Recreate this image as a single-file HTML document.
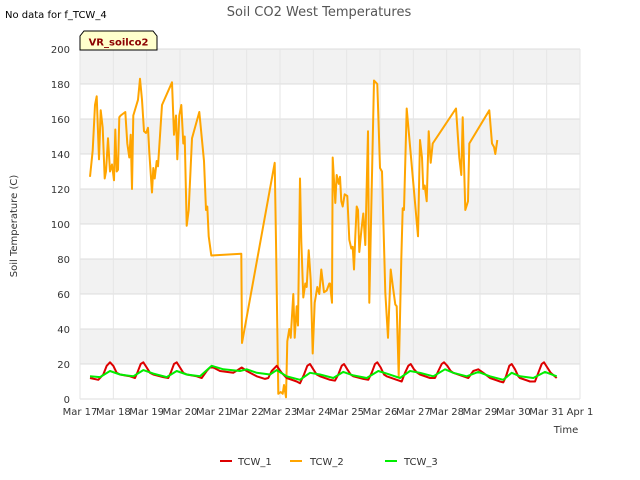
<!DOCTYPE html>
<html><head><meta charset="utf-8"><style>
body{margin:0;background:#fff;}
svg{display:block;font-family:"DejaVu Sans","Liberation Sans",sans-serif;}
</style></head><body>
<svg id="chart" width="640" height="480">
<text x="5" y="18" font-size="10" fill="#000">No data for f_TCW_4</text>
<text x="319" y="16" font-size="13" fill="#555" text-anchor="middle">Soil CO2 West Temperatures</text>
<g id="bands"></g>
<g id="grid"></g>
<g id="xticks"></g>
<g id="yticks"></g>
<g id="series"></g>
<text x="17" y="226" font-size="10" fill="#333" text-anchor="middle" transform="rotate(-90 17 226)">Soil Temperature (C)</text>
<text x="566" y="433" font-size="10" fill="#333" text-anchor="middle">Time</text>
<g>
<path d="M80,50 L80,36 L84,31 L153,31 L157,36 L157,50 Z" fill="#ffffcc" stroke="#000" stroke-width="1"/>
<text x="118.5" y="45.5" font-size="10" font-weight="bold" fill="#8b0000" text-anchor="middle">VR_soilco2</text>
</g>
<g>
<line x1="220" y1="461" x2="232" y2="461" stroke="#dd0000" stroke-width="2"/>
<text x="238" y="465" font-size="10" fill="#333">TCW_1</text>
<line x1="290" y1="461" x2="302" y2="461" stroke="#ffa500" stroke-width="2"/>
<text x="310" y="465" font-size="10" fill="#333">TCW_2</text>
<line x1="385" y1="461" x2="397" y2="461" stroke="#00ee00" stroke-width="2"/>
<text x="404" y="465" font-size="10" fill="#333">TCW_3</text>
</g>
</svg>
<script>
const xTickLabels=["Mar 17","Mar 18","Mar 19","Mar 20","Mar 21","Mar 22","Mar 23","Mar 24","Mar 25","Mar 26","Mar 27","Mar 28","Mar 29","Mar 30","Mar 31","Apr 1"];
const yTickValues=[0,20,40,60,80,100,120,140,160,180,200];
const tcw2Days=[0.3,0.38,0.45,0.5,0.57,0.62,0.68,0.74,0.78,0.84,0.9,0.96,1.02,1.06,1.1,1.14,1.18,1.22,1.36,1.42,1.48,1.52,1.56,1.6,1.74,1.8,1.86,1.92,1.98,2.04,2.08,2.16,2.2,2.24,2.3,2.34,2.46,2.76,2.82,2.88,2.92,2.98,3.04,3.1,3.14,3.2,3.26,3.36,3.58,3.72,3.78,3.82,3.86,3.94,4.84,4.86,5.84,5.88,5.95,6.02,6.08,6.12,6.18,6.22,6.28,6.32,6.4,6.44,6.5,6.54,6.6,6.64,6.7,6.76,6.8,6.86,6.92,6.98,7.04,7.12,7.18,7.24,7.32,7.4,7.48,7.5,7.56,7.58,7.66,7.7,7.76,7.8,7.84,7.88,7.94,8.02,8.08,8.14,8.18,8.22,8.26,8.3,8.34,8.38,8.44,8.5,8.56,8.64,8.68,8.82,8.92,9.0,9.06,9.16,9.24,9.32,9.38,9.46,9.5,9.56,9.64,9.68,9.72,9.8,10.14,10.2,10.26,10.3,10.34,10.4,10.46,10.52,10.58,11.28,11.38,11.44,11.48,11.56,11.64,11.68,12.28,12.36,12.42,12.46,12.52];
const tcw2Vals=[127,142,168,173,137,165,155,126,130,149,130,134,125,154,130,131,161,162,164,146,138,151,120,162,171,183,171,153,152,155,141,118,132,126,136,133,168,181,151,162,137,162,168,146,150,99,108,149,164,136,108,110,93,82,83,32,135,90,3,4,3,8,1,33,40,35,60,35,53,42,126,90,58,66,64,85,68,26,55,64,60,74,61,62,66,66,55,138,112,128,123,127,113,110,117,116,91,86,87,74,93,110,108,84,96,106,88,153,55,182,180,132,130,61,35,74,65,54,53,13,80,109,108,166,93,148,138,120,122,113,153,135,146,166,138,128,161,108,113,146,165,146,144,140,148];
const tcw1Days=[0.3,0.55,0.7,0.8,0.9,1.0,1.1,1.2,1.5,1.65,1.72,1.82,1.9,2.0,2.1,2.2,2.5,2.65,2.72,2.82,2.9,3.0,3.1,3.2,3.5,3.65,3.8,3.9,4.0,4.2,4.6,4.85,5.0,5.3,5.55,5.65,5.75,5.9,6.05,6.2,6.5,6.6,6.72,6.82,6.9,7.0,7.1,7.2,7.5,7.65,7.75,7.85,7.92,8.02,8.12,8.2,8.5,8.65,8.75,8.85,8.92,9.02,9.12,9.2,9.5,9.65,9.75,9.85,9.92,10.02,10.12,10.2,10.5,10.65,10.75,10.85,10.92,11.02,11.12,11.2,11.5,11.65,11.8,11.95,12.1,12.3,12.6,12.7,12.78,12.88,12.95,13.05,13.15,13.2,13.5,13.65,13.75,13.85,13.92,14.02,14.12,14.3];
const tcw1Vals=[12,11,14,19,21,19,15,14,13,12,15,20,21,18,15,14,12.5,12,15,20,21,18,15,14,13,12,16,18,18,16,15,18,16,13,11.5,12,16,19,15,12,10,9,14,19,20,17,14,13,11,10.5,14,19,20,17,14,13,11.5,11,15,20,21,18,14,13,11,10,15,19,20,17,15,14,12,12,16,20,21,19,16,15,13,12,16,17,15,12,10,9.5,13,19,20,17,13,12,10,10,15,20,21,18,15,12];
const tcw3Days=[0.3,0.6,0.9,1.2,1.6,1.9,2.2,2.6,2.9,3.2,3.6,3.95,4.3,4.8,5.0,5.3,5.7,5.9,6.2,6.6,6.9,7.2,7.6,7.9,8.2,8.6,8.95,9.2,9.6,9.9,10.2,10.6,10.95,11.2,11.6,11.95,12.3,12.7,12.95,13.2,13.6,13.95,14.3];
const tcw3Vals=[13,12.5,16,14,13,16.5,14.5,12.5,16,14,13,19,17,16,17,15,14,16.5,13,11,15,14,12,15.5,13.5,12,16,14.5,12,16,15,13,17,15,13,15.5,13,11,15,13,12,15.5,13];

const NS='http://www.w3.org/2000/svg';
const L=80,R=580,T=49,B=399;
const xs=d=>L+d*(R-L)/15;
const ys=v=>B-v*(B-T)/200;
function mk(tag,attrs,parent){const e=document.createElementNS(NS,tag);for(const k in attrs)e.setAttribute(k,attrs[k]);parent.appendChild(e);return e;}
const bands=document.getElementById('bands'),grid=document.getElementById('grid');
for(let i=0;i<yTickValues.length-1;i++){
  if(i%2===1){const r=mk('rect',{x:L,y:ys(yTickValues[i+1]),width:R-L,height:ys(yTickValues[i])-ys(yTickValues[i+1]),fill:'#f2f2f2'},bands);
  
  }
}
const yt=document.getElementById('yticks');
yTickValues.forEach(v=>{
  const ln=mk('line',{x1:L,x2:R,y1:ys(v),y2:ys(v),stroke:'#dcdcdc','stroke-width':1},grid);
  
  
  const t=mk('text',{x:L-10,y:ys(v)+4,'font-size':10,fill:'#333','text-anchor':'end'},yt);
  t.textContent=v;
  
  
});
const xt=document.getElementById('xticks');
xTickLabels.forEach((s,i)=>{
  const ln=mk('line',{x1:xs(i),x2:xs(i),y1:T,y2:B,stroke:'#e6e6e6','stroke-width':1},grid);
  
  
  const t=mk('text',{x:xs(i),y:415,'font-size':10,fill:'#333','text-anchor':'middle'},xt);
  t.textContent=s;
  
  
});
const ser=document.getElementById('series');
function line(days,vals,color,name){
  const d=days.map((x,i)=>(i?'L':'M')+xs(x).toFixed(1)+','+ys(vals[i]).toFixed(1)).join(' ');
  const p=mk('path',{d:d,fill:'none',stroke:color,'stroke-width':2,'stroke-linejoin':'round'},ser);
  
  
}
line(tcw2Days,tcw2Vals,'#ffa500','tcw2-line');
line(tcw1Days,tcw1Vals,'#dd0000','tcw1-line');
line(tcw3Days,tcw3Vals,'#00ee00','tcw3-line');
</script>
</body></html>
